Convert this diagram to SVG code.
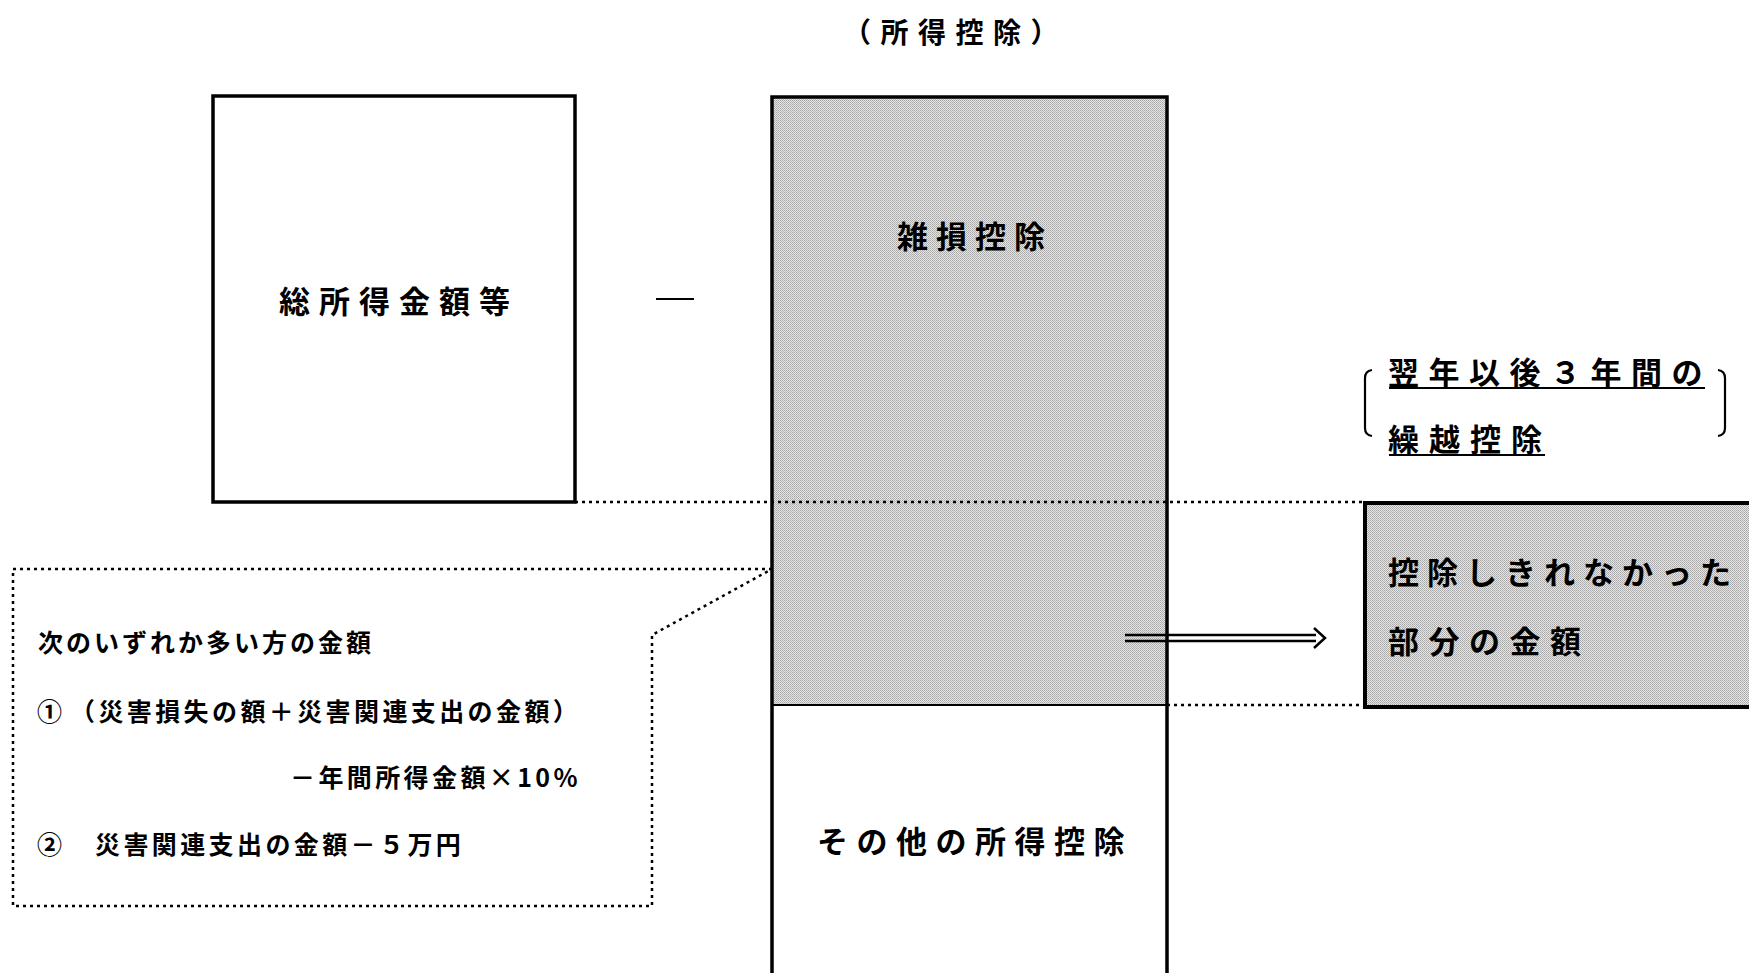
<svg xmlns="http://www.w3.org/2000/svg" width="1749" height="973" viewBox="0 0 1749 973">
<defs>
<pattern id="stip" width="2" height="2" patternUnits="userSpaceOnUse">
<rect width="2" height="2" fill="#e6e6e6"/>
<rect width="1" height="1" fill="#a6a6a6"/>
<rect x="1" y="1" width="1" height="1" fill="#b4b4b4"/>
</pattern>
<style>
.t{font-family:"Noto Sans CJK JP","Noto Sans CJK SC",sans-serif;fill:#000;dominant-baseline:central;font-weight:bold}
.big{font-size:31px;letter-spacing:9.5px}
.sm{font-size:25px;letter-spacing:3.4px}
.box{fill:#fff;stroke:#000;stroke-width:3.5}
.dot{fill:none;stroke:#000;stroke-width:2.5;stroke-dasharray:3 4}
.ln{fill:none;stroke:#000;stroke-width:2.2}
</style>
</defs>
<rect width="1749" height="973" fill="#fff"/>

<text id="title" class="t" x="843" y="31" style="font-size:28px;letter-spacing:9.5px">（所得控除）</text>

<g id="node-total">
<rect class="box" x="213" y="96" width="362" height="406"/>
<text class="t big" x="399" y="299" text-anchor="middle" style="letter-spacing:9px">総所得金額等</text>
</g>

<g id="minus">
<line class="ln" x1="656" y1="299" x2="694" y2="299"/>
</g>

<g id="node-deductions">
<rect x="772" y="97" width="395" height="608" fill="url(#stip)"/>
<rect x="772" y="705" width="395" height="268" fill="#fff"/>
<path d="M772,973 V97 H1167 V973" fill="none" stroke="#000" stroke-width="3.5"/>
<line x1="772" y1="705" x2="1167" y2="705" stroke="#000" stroke-width="2.2"/>
<text class="t big" x="975" y="234" text-anchor="middle" style="letter-spacing:8px">雑損控除</text>
<text class="t big" x="975" y="839" text-anchor="middle" style="letter-spacing:8.5px">その他の所得控除</text>
</g>

<g id="node-carry">
<rect x="1365" y="503" width="420" height="204" fill="url(#stip)" stroke="#000" stroke-width="4"/>
<text class="t big" x="1388" y="570" style="letter-spacing:8px">控除しきれなかった</text>
<text class="t big" x="1388" y="639">部分の金額</text>
</g>

<g id="node-note">
<path class="ln" d="M1372,370 Q1365,371 1365,378 V428 Q1365,435 1372,436"/>
<path class="ln" d="M1718,370 Q1725,371 1725,378 V428 Q1725,435 1718,436"/>
<text class="t big" x="1388" y="370">翌年以後３年間の</text>
<text class="t big" x="1388" y="437" style="letter-spacing:10px">繰越控除</text>
<line class="ln" x1="1389" y1="388" x2="1705" y2="388"/>
<line class="ln" x1="1389" y1="455" x2="1545" y2="455"/>
</g>

<g id="node-callout">
<path class="dot" d="M772,569 H13 V906 H652 V635 L772,569"/>
<text class="t sm" x="38" y="641" style="letter-spacing:3px">次のいずれか多い方の金額</text>
<text class="t sm" x="37" y="710">①</text>
<text class="t sm" x="70" y="710">（災害損失の額＋災害関連支出の金額）</text>
<text class="t sm" x="581" y="776" text-anchor="end">－年間所得金額×10%</text>
<text class="t sm" x="37" y="843">②</text>
<text class="t sm" x="95" y="843">災害関連支出の金額－５万円</text>
</g>

<g id="connectors">
<line class="dot" x1="575" y1="502" x2="1365" y2="502"/>
<line class="dot" x1="1167" y1="705" x2="1365" y2="705"/>
<line x1="1125" y1="635" x2="1316" y2="635" stroke="#000" stroke-width="2.5"/>
<line x1="1125" y1="641" x2="1316" y2="641" stroke="#000" stroke-width="2.5"/>
<path d="M1314,628 L1325,638 L1314,648" fill="none" stroke="#000" stroke-width="2.5"/>
</g>
</svg>
